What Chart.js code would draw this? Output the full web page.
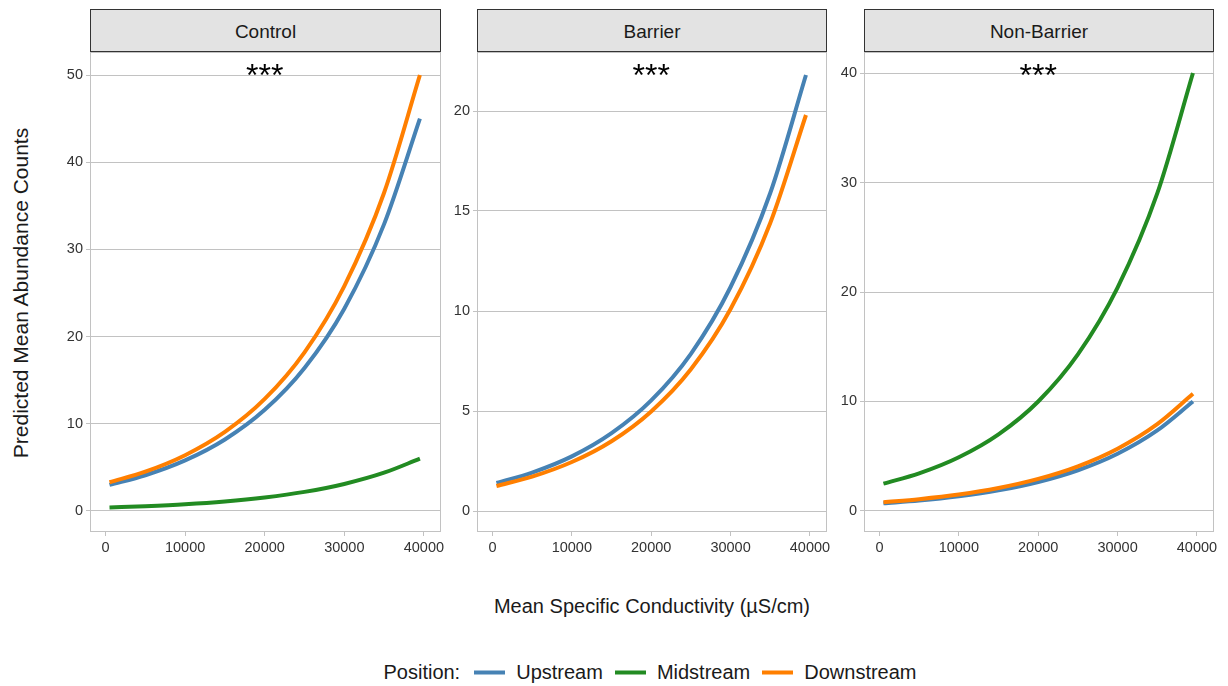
<!DOCTYPE html>
<html>
<head>
<meta charset="utf-8">
<script src="https://cdn.jsdelivr.net/npm/chart.js@4.4.0/dist/chart.umd.min.js"></script>
<style>
  body { margin: 0; background: #fff; font-family: 'Liberation Sans', Arial, sans-serif; }
  #wrap { position: relative; width: 1228px; height: 686px; overflow: hidden; }
  .strip {
    position: absolute; top: 9px; height: 43px; box-sizing: border-box;
    background: #e3e3e3; border: 1.5px solid #333;
    font-size: 19px; color: #1a1a1a; text-align: center; line-height: 43px;
  }
  .panel { position: absolute; top: 37px; }
  #ytitle {
    position: absolute; left: 21px; top: 293px; white-space: nowrap;
    transform: translate(-50%, -50%) rotate(-90deg);
    font-size: 21px; color: #1a1a1a;
  }
  #xtitle {
    position: absolute; left: 652px; top: 606px; white-space: nowrap;
    transform: translate(-50%, -50%); font-size: 20px; color: #1a1a1a;
  }
  #legend {
    position: absolute; left: 0; width: 1228px; top: 672px; transform: translateY(-50%);
    display: flex; justify-content: center; align-items: center;
    font-size: 20px; color: #1a1a1a; padding-left: 72px; box-sizing: border-box;
  }
  #legend .key { display: inline-block; width: 31px; height: 4px; margin: 0 11px 0 12px; }
</style>
</head>
<body>
<div id="wrap">
  <div id="ytitle">Predicted Mean Abundance Counts</div>
  <div id="xtitle">Mean Specific Conductivity (µS/cm)</div>
  <div id="legend"></div>
</div>
<script>
// predicted counts along conductivity, one array per site type and position
const conductivity = [500, 5000, 10000, 15000, 20000, 25000, 30000, 35000, 39500];

const controlUp      = [3.0, 4.1, 5.8, 8.2, 11.6, 16.4, 23.2, 32.9, 45.0];
const controlMid     = [0.4, 0.55, 0.77, 1.09, 1.55, 2.19, 3.1, 4.39, 6.0];
const controlDown    = [3.3, 4.51, 6.4, 9.07, 12.85, 18.2, 25.8, 36.5, 50.0];

const barrierUp      = [1.4, 1.92, 2.73, 3.89, 5.53, 7.86, 11.2, 15.9, 21.8];
const barrierDown    = [1.25, 1.72, 2.45, 3.49, 4.98, 7.09, 10.1, 14.4, 19.8];

const nonBarrierUp   = [0.7, 0.95, 1.34, 1.88, 2.65, 3.72, 5.23, 7.36, 10.0];
const nonBarrierMid  = [2.5, 3.44, 4.91, 7.0, 10.0, 14.3, 20.4, 29.0, 40.0];
const nonBarrierDown = [0.8, 1.08, 1.5, 2.1, 2.93, 4.08, 5.69, 7.93, 10.7];

const sites = ['Control', 'Barrier', 'Non-Barrier'];
const positions = ['Upstream', 'Midstream', 'Downstream'];
const posColors = ['#4682b4', '#228b22', '#ff7f00'];

const xTicks = [0, 10000, 20000, 30000, 40000];
const yTicksControl = [0, 10, 20, 30, 40, 50];
const yTicksBarrier = [0, 5, 10, 15, 20];
const yTicksNonBarrier = [0, 10, 20, 30, 40];

const signif = ['***', '***', '***'];

const panels = [
  { left: 90,  width: 351, ymin: -2.41, ymax: 52.64, yTicks: yTicksControl,
    series: [controlUp, controlMid, controlDown] },
  { left: 477, width: 350, ymin: -1.05, ymax: 22.95, yTicks: yTicksBarrier,
    series: [barrierUp, null, barrierDown] },
  { left: 864, width: 350, ymin: -1.92, ymax: 41.92, yTicks: yTicksNonBarrier,
    series: [nonBarrierUp, nonBarrierMid, nonBarrierDown] }
];

const gridCol = '#c2c2c2';
const tickFont = { family: "'Liberation Sans', Arial, sans-serif", size: 14.5 };
const AXIS_W = 50, AXIS_H = 33, PAD_TOP = 15, PAD_RIGHT = 20;

// panel frame + significance stars
const framePlugin = {
  id: 'frame',
  beforeDatasetsDraw(chart) {
    const a = chart.chartArea, ctx = chart.ctx;
    ctx.save();
    ctx.strokeStyle = gridCol;
    ctx.lineWidth = 1;
    ctx.strokeRect(a.left + 0.5, a.top + 0.5, a.width - 1, a.height - 1);
    ctx.restore();
  },
  afterDraw(chart, args, opts) {
    const a = chart.chartArea, ctx = chart.ctx;
    const x = chart.scales.x.getPixelForValue(20000);
    ctx.save();
    ctx.fillStyle = '#000';
    ctx.font = "32px 'Liberation Sans', Arial, sans-serif";
    ctx.textAlign = 'center';
    ctx.textBaseline = 'alphabetic';
    ctx.fillText(opts.label, x, a.top + 34);
    ctx.restore();
  }
};

const wrap = document.getElementById('wrap');

panels.forEach((p, i) => {
  const strip = document.createElement('div');
  strip.className = 'strip';
  strip.style.left = p.left + 'px';
  strip.style.width = p.width + 'px';
  strip.textContent = sites[i];
  wrap.appendChild(strip);

  const canvas = document.createElement('canvas');
  canvas.className = 'panel';
  const w = AXIS_W + p.width + PAD_RIGHT, h = PAD_TOP + 480 + AXIS_H;
  canvas.width = w; canvas.height = h;
  canvas.style.width = w + 'px'; canvas.style.height = h + 'px';
  canvas.style.left = (p.left - AXIS_W) + 'px';
  wrap.appendChild(canvas);

  const datasets = [];
  p.series.forEach((vals, j) => {
    if (!vals) return;
    datasets.push({
      label: positions[j],
      data: conductivity.map((x, k) => ({ x: x, y: vals[k] })),
      borderColor: posColors[j],
      backgroundColor: posColors[j],
      order: 3 - j
    });
  });

  new Chart(canvas, {
    type: 'line',
    data: { datasets },
    options: {
      responsive: false,
      animation: false,
      events: [],
      layout: { padding: { top: PAD_TOP, right: PAD_RIGHT, left: 0, bottom: 0 } },
      elements: {
        point: { radius: 0 },
        line: { borderWidth: 4, cubicInterpolationMode: 'monotone', borderCapStyle: 'butt' }
      },
      plugins: {
        legend: { display: false },
        tooltip: { enabled: false },
        frame: { label: signif[i] }
      },
      scales: {
        x: {
          type: 'linear', min: -1950, max: 42150,
          afterBuildTicks: s => { s.ticks = xTicks.map(v => ({ value: v })); },
          afterFit: s => { s.height = AXIS_H; },
          border: { display: false },
          grid: { drawOnChartArea: false, color: gridCol, tickLength: 4 },
          ticks: {
            font: tickFont, color: '#333', padding: 3, maxRotation: 0, autoSkip: false,
            callback: v => String(v)
          }
        },
        y: {
          min: p.ymin, max: p.ymax,
          afterBuildTicks: s => { s.ticks = p.yTicks.map(v => ({ value: v })); },
          afterFit: s => { s.width = AXIS_W; },
          border: { display: false },
          grid: { color: gridCol, tickLength: 4 },
          ticks: { font: tickFont, color: '#333', padding: 3, callback: v => String(v) }
        }
      }
    },
    plugins: [framePlugin]
  });
});

// shared legend
const legend = document.getElementById('legend');
const lab = document.createElement('span');
lab.textContent = 'Position:';
lab.style.marginRight = '2px';
legend.appendChild(lab);
positions.forEach((name, j) => {
  const key = document.createElement('span');
  key.className = 'key';
  key.style.background = posColors[j];
  legend.appendChild(key);
  const t = document.createElement('span');
  t.textContent = name;
  legend.appendChild(t);
});
</script>
</body>
</html>
